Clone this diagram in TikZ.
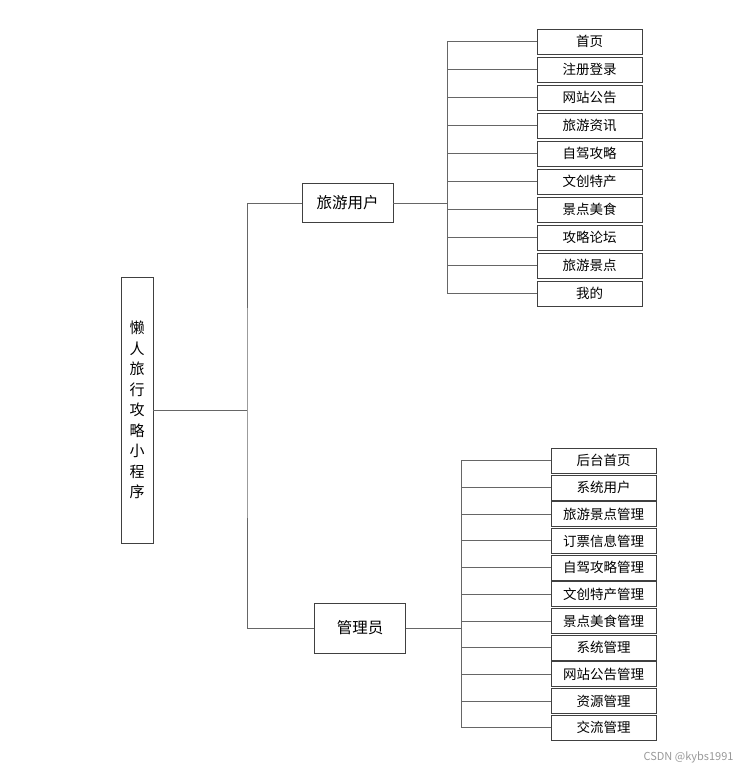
\documentclass[tikz,border=0pt]{standalone}
\usepackage{fontspec}
\setmainfont{Noto Sans CJK SC}
\usetikzlibrary{positioning}

\begin{document}
\begin{tikzpicture}[
    x=1pt, y=-1pt,
    node distance=2.1pt,
    box/.style={
        rectangle,
        draw=black!75,
        line width=0.9pt,
        inner sep=0pt,
        align=center,
        font=\fontsize{13.5}{16}\selectfont
    },
    leaf/.style={box, minimum width=105pt, minimum height=25pt},
    role/.style={box, font=\fontsize{15.5}{18}\selectfont},
    link/.style={draw=black!60, line width=0.9pt}
]
    \useasboundingbox (0,0) rectangle (750,771);

    % root
    \node[box, minimum width=32pt, minimum height=266pt,
          font=\fontsize{15}{20.5}\selectfont] (root) at (137,410)
          {懒\\人\\旅\\行\\攻\\略\\小\\程\\序};

    % roles
    \node[role, minimum width=91pt, minimum height=39pt] (user) at (347.5,203) {旅游用户};
    \node[role, minimum width=91pt, minimum height=50pt] (admin) at (360,628) {管理员};

    % user functions
    \node[leaf] (u1) at (589.5,41.8) {首页};
    \node[leaf, below=of u1] (u2) {注册登录};
    \node[leaf, below=of u2] (u3) {网站公告};
    \node[leaf, below=of u3] (u4) {旅游资讯};
    \node[leaf, below=of u4] (u5) {自驾攻略};
    \node[leaf, below=of u5] (u6) {文创特产};
    \node[leaf, below=of u6] (u7) {景点美食};
    \node[leaf, below=of u7] (u8) {攻略论坛};
    \node[leaf, below=of u8] (u9) {旅游景点};
    \node[leaf, below=of u9] (u10) {我的};

    % admin functions
    \begin{scope}[node distance=0.8pt]
    \node[leaf] (a1) at (603.5,460.8) {后台首页};
    \node[leaf, below=of a1] (a2) {系统用户};
    \node[leaf, below=of a2] (a3) {旅游景点管理};
    \node[leaf, below=of a3] (a4) {订票信息管理};
    \node[leaf, below=of a4] (a5) {自驾攻略管理};
    \node[leaf, below=of a5] (a6) {文创特产管理};
    \node[leaf, below=of a6] (a7) {景点美食管理};
    \node[leaf, below=of a7] (a8) {系统管理};
    \node[leaf, below=of a8] (a9) {网站公告管理};
    \node[leaf, below=of a9] (a10) {资源管理};
    \node[leaf, below=of a10] (a11) {交流管理};
    \end{scope}

    \coordinate (trunk) at (247,410);
    \coordinate (ubranch) at (447,0);
    \coordinate (abranch) at (461,0);

    \draw[link] (root.east) -- (root.east -| trunk);
    \draw[link] (user.west) -| (trunk) |- (admin.west);

    \draw[link] (user.east) -- (user.east -| ubranch);
    \draw[link] (u1.west -| ubranch) -- (u10.west -| ubranch);
    \foreach \i in {1,...,10}
        \draw[link] (u\i.west) -- (u\i.west -| ubranch);

    \draw[link] (admin.east) -- (admin.east -| abranch);
    \draw[link] (a1.west -| abranch) -- (a11.west -| abranch);
    \foreach \i in {1,...,11}
        \draw[link] (a\i.west) -- (a\i.west -| abranch);

    \node[text=black!40, font=\fontsize{11}{13}\selectfont, anchor=east] (mark) at (737,757) {CSDN @kybs1991};
\end{tikzpicture}
\end{document}
